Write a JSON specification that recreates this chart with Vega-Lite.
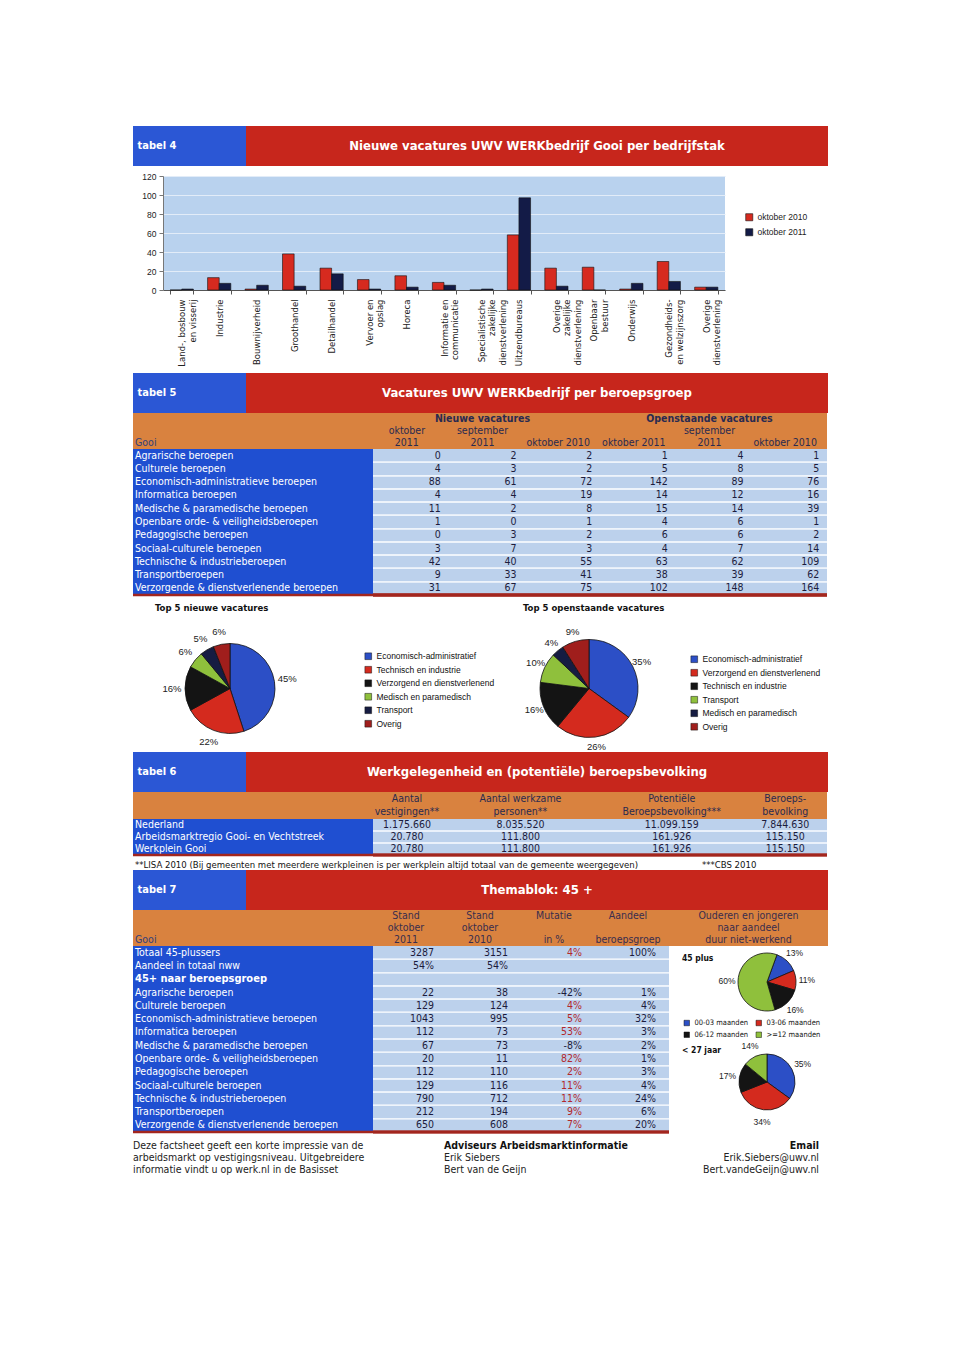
{
"$schema": "https://vega.github.io/schema/vega-lite/v6.json",
"background": "white",
"padding": {"left": 131, "top": 126, "right": 5, "bottom": 5},
"config": {"view": {"stroke": null}, "font": "DejaVu Sans Condensed", "text": {"fontSize": 10.5, "color": "#1c1c3c"}},
"spacing": 6,
"resolve": {"scale": {"color": "independent"}},
"datasets": {
 "bedrijfstakken": [
  {"bedrijfstak": "Land-, bosbouw|en visserij", "periode": "oktober 2010", "aantal": 0},
  {"bedrijfstak": "Land-, bosbouw|en visserij", "periode": "oktober 2011", "aantal": 1},
  {"bedrijfstak": "Industrie", "periode": "oktober 2010", "aantal": 13},
  {"bedrijfstak": "Industrie", "periode": "oktober 2011", "aantal": 7},
  {"bedrijfstak": "Bouwnijverheid", "periode": "oktober 2010", "aantal": 1},
  {"bedrijfstak": "Bouwnijverheid", "periode": "oktober 2011", "aantal": 5},
  {"bedrijfstak": "Groothandel", "periode": "oktober 2010", "aantal": 38},
  {"bedrijfstak": "Groothandel", "periode": "oktober 2011", "aantal": 4},
  {"bedrijfstak": "Detailhandel", "periode": "oktober 2010", "aantal": 23},
  {"bedrijfstak": "Detailhandel", "periode": "oktober 2011", "aantal": 17},
  {"bedrijfstak": "Vervoer en|opslag", "periode": "oktober 2010", "aantal": 11},
  {"bedrijfstak": "Vervoer en|opslag", "periode": "oktober 2011", "aantal": 1},
  {"bedrijfstak": "Horeca", "periode": "oktober 2010", "aantal": 15},
  {"bedrijfstak": "Horeca", "periode": "oktober 2011", "aantal": 3},
  {"bedrijfstak": "Informatie en|communicatie", "periode": "oktober 2010", "aantal": 8},
  {"bedrijfstak": "Informatie en|communicatie", "periode": "oktober 2011", "aantal": 5},
  {"bedrijfstak": "Specialistische|zakelijke|dienstverlening", "periode": "oktober 2010", "aantal": 0},
  {"bedrijfstak": "Specialistische|zakelijke|dienstverlening", "periode": "oktober 2011", "aantal": 1},
  {"bedrijfstak": "Uitzendbureaus", "periode": "oktober 2010", "aantal": 58},
  {"bedrijfstak": "Uitzendbureaus", "periode": "oktober 2011", "aantal": 97},
  {"bedrijfstak": "Overige|zakelijke|dienstverlening", "periode": "oktober 2010", "aantal": 23},
  {"bedrijfstak": "Overige|zakelijke|dienstverlening", "periode": "oktober 2011", "aantal": 4},
  {"bedrijfstak": "Openbaar|bestuur", "periode": "oktober 2010", "aantal": 24},
  {"bedrijfstak": "Openbaar|bestuur", "periode": "oktober 2011", "aantal": 0},
  {"bedrijfstak": "Onderwijs", "periode": "oktober 2010", "aantal": 1},
  {"bedrijfstak": "Onderwijs", "periode": "oktober 2011", "aantal": 7},
  {"bedrijfstak": "Gezondheids-|en welzijnszorg", "periode": "oktober 2010", "aantal": 30},
  {"bedrijfstak": "Gezondheids-|en welzijnszorg", "periode": "oktober 2011", "aantal": 9},
  {"bedrijfstak": "Overige|dienstverlening", "periode": "oktober 2010", "aantal": 3},
  {"bedrijfstak": "Overige|dienstverlening", "periode": "oktober 2011", "aantal": 3}
 ],
 "kop5": [
  {"regel": "1", "kolom": "nieuw_sep2011", "tekst": "Nieuwe vacatures"},
  {"regel": "1", "kolom": "open_sep2011", "tekst": "Openstaande vacatures"},
  {"regel": "2", "kolom": "nieuw_okt2011", "tekst": "oktober"},
  {"regel": "2", "kolom": "nieuw_sep2011", "tekst": "september"},
  {"regel": "2", "kolom": "open_sep2011", "tekst": "september"},
  {"regel": "3", "kolom": "nieuw_okt2011", "tekst": "2011"},
  {"regel": "3", "kolom": "nieuw_sep2011", "tekst": "2011"},
  {"regel": "3", "kolom": "nieuw_okt2010", "tekst": "oktober 2010"},
  {"regel": "3", "kolom": "open_okt2011", "tekst": "oktober 2011"},
  {"regel": "3", "kolom": "open_sep2011", "tekst": "2011"},
  {"regel": "3", "kolom": "open_okt2010", "tekst": "oktober 2010"}
 ],
 "tabel5": [
  {"beroepsgroep": "Agrarische beroepen", "nieuw_okt2011": 0, "nieuw_sep2011": 2, "nieuw_okt2010": 2, "open_okt2011": 1, "open_sep2011": 4, "open_okt2010": 1},
  {"beroepsgroep": "Culturele beroepen", "nieuw_okt2011": 4, "nieuw_sep2011": 3, "nieuw_okt2010": 2, "open_okt2011": 5, "open_sep2011": 8, "open_okt2010": 5},
  {"beroepsgroep": "Economisch-administratieve beroepen", "nieuw_okt2011": 88, "nieuw_sep2011": 61, "nieuw_okt2010": 72, "open_okt2011": 142, "open_sep2011": 89, "open_okt2010": 76},
  {"beroepsgroep": "Informatica beroepen", "nieuw_okt2011": 4, "nieuw_sep2011": 4, "nieuw_okt2010": 19, "open_okt2011": 14, "open_sep2011": 12, "open_okt2010": 16},
  {"beroepsgroep": "Medische & paramedische beroepen", "nieuw_okt2011": 11, "nieuw_sep2011": 2, "nieuw_okt2010": 8, "open_okt2011": 15, "open_sep2011": 14, "open_okt2010": 39},
  {"beroepsgroep": "Openbare orde- & veiligheidsberoepen", "nieuw_okt2011": 1, "nieuw_sep2011": 0, "nieuw_okt2010": 1, "open_okt2011": 4, "open_sep2011": 6, "open_okt2010": 1},
  {"beroepsgroep": "Pedagogische beroepen", "nieuw_okt2011": 0, "nieuw_sep2011": 3, "nieuw_okt2010": 2, "open_okt2011": 6, "open_sep2011": 6, "open_okt2010": 2},
  {"beroepsgroep": "Sociaal-culturele beroepen", "nieuw_okt2011": 3, "nieuw_sep2011": 7, "nieuw_okt2010": 3, "open_okt2011": 4, "open_sep2011": 7, "open_okt2010": 14},
  {"beroepsgroep": "Technische & industrieberoepen", "nieuw_okt2011": 42, "nieuw_sep2011": 40, "nieuw_okt2010": 55, "open_okt2011": 63, "open_sep2011": 62, "open_okt2010": 109},
  {"beroepsgroep": "Transportberoepen", "nieuw_okt2011": 9, "nieuw_sep2011": 33, "nieuw_okt2010": 41, "open_okt2011": 38, "open_sep2011": 39, "open_okt2010": 62},
  {"beroepsgroep": "Verzorgende & dienstverlenende beroepen", "nieuw_okt2011": 31, "nieuw_sep2011": 67, "nieuw_okt2010": 75, "open_okt2011": 102, "open_sep2011": 148, "open_okt2010": 164}
 ],
 "top5nieuw": [
  {"beroep": "Economisch-administratief", "aandeel": 0.45, "nr": 1},
  {"beroep": "Technisch en industrie", "aandeel": 0.22, "nr": 2},
  {"beroep": "Verzorgend en dienstverlenend", "aandeel": 0.16, "nr": 3},
  {"beroep": "Medisch en paramedisch", "aandeel": 0.06, "nr": 4},
  {"beroep": "Transport", "aandeel": 0.05, "nr": 5},
  {"beroep": "Overig", "aandeel": 0.06, "nr": 6}
 ],
 "top5open": [
  {"beroep": "Economisch-administratief", "aandeel": 0.35, "nr": 1},
  {"beroep": "Verzorgend en dienstverlenend", "aandeel": 0.26, "nr": 2},
  {"beroep": "Technisch en industrie", "aandeel": 0.16, "nr": 3},
  {"beroep": "Transport", "aandeel": 0.10, "nr": 4},
  {"beroep": "Medisch en paramedisch", "aandeel": 0.04, "nr": 5},
  {"beroep": "Overig", "aandeel": 0.09, "nr": 6}
 ],
 "kop6": [
  {"regel": "1", "kolom": "vestigingen", "tekst": "Aantal"},
  {"regel": "2", "kolom": "vestigingen", "tekst": "vestigingen**"},
  {"regel": "1", "kolom": "werkzame", "tekst": "Aantal werkzame"},
  {"regel": "2", "kolom": "werkzame", "tekst": "personen**"},
  {"regel": "1", "kolom": "potentieel", "tekst": "Potentiële"},
  {"regel": "2", "kolom": "potentieel", "tekst": "Beroepsbevolking***"},
  {"regel": "1", "kolom": "beroepsbevolking", "tekst": "Beroeps-"},
  {"regel": "2", "kolom": "beroepsbevolking", "tekst": "bevolking"}
 ],
 "tabel6": [
  {"gebied": "Nederland", "vestigingen": "1.175.660", "werkzame": "8.035.520", "potentieel": "11.099.159", "beroepsbevolking": "7.844.630"},
  {"gebied": "Arbeidsmarktregio Gooi- en Vechtstreek", "vestigingen": "20.780", "werkzame": "111.800", "potentieel": "161.926", "beroepsbevolking": "115.150"},
  {"gebied": "Werkplein Gooi", "vestigingen": "20.780", "werkzame": "111.800", "potentieel": "161.926", "beroepsbevolking": "115.150"}
 ],
 "voetnoot": [
  {"bron": "LISA", "tekst": "**LISA 2010 (Bij gemeenten met meerdere werkpleinen is per werkplein altijd totaal van de gemeente weergegeven)"},
  {"bron": "CBS", "tekst": "***CBS 2010"}
 ],
 "kop7": [
  {"regel": "1", "kolom": "stand2011", "tekst": "Stand"},
  {"regel": "2", "kolom": "stand2011", "tekst": "oktober"},
  {"regel": "3", "kolom": "stand2011", "tekst": "2011"},
  {"regel": "1", "kolom": "stand2010", "tekst": "Stand"},
  {"regel": "2", "kolom": "stand2010", "tekst": "oktober"},
  {"regel": "3", "kolom": "stand2010", "tekst": "2010"},
  {"regel": "1", "kolom": "mutatie", "tekst": "Mutatie"},
  {"regel": "3", "kolom": "mutatie", "tekst": "in %"},
  {"regel": "1", "kolom": "aandeel", "tekst": "Aandeel"},
  {"regel": "3", "kolom": "aandeel", "tekst": "beroepsgroep"}
 ],
 "kopduur": [
  {"regel": "1", "tekst": "Ouderen en jongeren"},
  {"regel": "2", "tekst": "naar aandeel"},
  {"regel": "3", "tekst": "duur niet-werkend"}
 ],
 "tabel7": [
  {"rij": "Totaal 45-plussers", "stand2011": "3287", "stand2010": "3151", "mutatie": "4%", "aandeel": "100%"},
  {"rij": "Aandeel in totaal nww", "stand2011": "54%", "stand2010": "54%", "mutatie": "", "aandeel": ""},
  {"rij": "45+ naar beroepsgroep", "stand2011": "", "stand2010": "", "mutatie": "", "aandeel": ""},
  {"rij": "Agrarische beroepen", "stand2011": "22", "stand2010": "38", "mutatie": "-42%", "aandeel": "1%"},
  {"rij": "Culturele beroepen", "stand2011": "129", "stand2010": "124", "mutatie": "4%", "aandeel": "4%"},
  {"rij": "Economisch-administratieve beroepen", "stand2011": "1043", "stand2010": "995", "mutatie": "5%", "aandeel": "32%"},
  {"rij": "Informatica beroepen", "stand2011": "112", "stand2010": "73", "mutatie": "53%", "aandeel": "3%"},
  {"rij": "Medische & paramedische beroepen", "stand2011": "67", "stand2010": "73", "mutatie": "-8%", "aandeel": "2%"},
  {"rij": "Openbare orde- & veiligheidsberoepen", "stand2011": "20", "stand2010": "11", "mutatie": "82%", "aandeel": "1%"},
  {"rij": "Pedagogische beroepen", "stand2011": "112", "stand2010": "110", "mutatie": "2%", "aandeel": "3%"},
  {"rij": "Sociaal-culturele beroepen", "stand2011": "129", "stand2010": "116", "mutatie": "11%", "aandeel": "4%"},
  {"rij": "Technische & industrieberoepen", "stand2011": "790", "stand2010": "712", "mutatie": "11%", "aandeel": "24%"},
  {"rij": "Transportberoepen", "stand2011": "212", "stand2010": "194", "mutatie": "9%", "aandeel": "6%"},
  {"rij": "Verzorgende & dienstverlenende beroepen", "stand2011": "650", "stand2010": "608", "mutatie": "7%", "aandeel": "20%"}
 ],
 "duur": [
  {"groep": "45 plus", "duur": "00-03 maanden", "aandeel": 0.13, "nr": 1},
  {"groep": "45 plus", "duur": "03-06 maanden", "aandeel": 0.11, "nr": 2},
  {"groep": "45 plus", "duur": "06-12 maanden", "aandeel": 0.16, "nr": 3},
  {"groep": "45 plus", "duur": ">=12 maanden", "aandeel": 0.60, "nr": 4},
  {"groep": "< 27 jaar", "duur": "00-03 maanden", "aandeel": 0.35, "nr": 1},
  {"groep": "< 27 jaar", "duur": "03-06 maanden", "aandeel": 0.34, "nr": 2},
  {"groep": "< 27 jaar", "duur": "06-12 maanden", "aandeel": 0.17, "nr": 3},
  {"groep": "< 27 jaar", "duur": ">=12 maanden", "aandeel": 0.14, "nr": 4}
 ],
 "voettekst": [
  {"kolom": "links", "regel": "1", "tekst": "Deze factsheet geeft een korte impressie van de"},
  {"kolom": "links", "regel": "2", "tekst": "arbeidsmarkt op vestigingsniveau. Uitgebreidere"},
  {"kolom": "links", "regel": "3", "tekst": "informatie vindt u op werk.nl in de Basisset"},
  {"kolom": "midden", "regel": "1", "tekst": "Adviseurs Arbeidsmarktinformatie"},
  {"kolom": "midden", "regel": "2", "tekst": "Erik Siebers"},
  {"kolom": "midden", "regel": "3", "tekst": "Bert van de Geijn"},
  {"kolom": "rechts", "regel": "1", "tekst": "Email"},
  {"kolom": "rechts", "regel": "2", "tekst": "Erik.Siebers@uwv.nl"},
  {"kolom": "rechts", "regel": "3", "tekst": "Bert.vandeGeijn@uwv.nl"}
 ]
},
"vconcat": [
 {"spacing": 0, "bounds": "flush", "hconcat": [
  {"width": 113, "height": 40, "view": {"fill": "#2b57d5"}, "data": {"values": [{"label": "tabel 4"}]},
   "mark": {"type": "text", "align": "left", "dx": -52, "color": "white", "fontWeight": "bold", "fontSize": 11},
   "encoding": {"text": {"field": "label"}}},
  {"width": 582, "height": 40, "view": {"fill": "#c7261c"}, "data": {"values": [{"titel": "Nieuwe vacatures UWV WERKbedrijf Gooi per bedrijfstak"}]},
   "mark": {"type": "text", "color": "white", "fontWeight": "bold", "fontSize": 13},
   "encoding": {"text": {"field": "titel"}}}
 ]},
 {"spacing": 0, "hconcat": [
  {"width": 1, "height": 114, "data": {"values": [{"leeg": ""}]}, "mark": {"type": "text"}, "encoding": {"text": {"field": "leeg"}}},
  {"width": 562, "height": 114,
   "view": {"fill": "#b9d2ee"},
   "data": {"name": "bedrijfstakken"},
   "mark": {"type": "bar", "stroke": "#111111", "strokeWidth": 0.6},
   "encoding": {
    "x": {"field": "bedrijfstak", "type": "nominal", "sort": null, "scale": {"paddingInner": 0.38, "paddingOuter": 0.19},
     "axis": {"title": null, "labelAngle": -90, "labelExpr": "split(datum.label, '|')", "labelFont": "DejaVu Sans", "labelFontSize": 8.5, "labelColor": "#222222", "labelLineHeight": 10.5, "labelLimit": 0, "labelPadding": 5, "tickBand": "extent", "tickSize": 4, "tickColor": "#555555", "domainColor": "#555555"}},
    "y": {"field": "aantal", "type": "quantitative", "scale": {"domain": [0, 120]},
     "axis": {"title": null, "values": [0, 20, 40, 60, 80, 100, 120], "labelFont": "Liberation Sans", "labelFontSize": 8.5, "labelColor": "#222222", "gridColor": "#e2ecf8", "domainColor": "#777777", "tickColor": "#777777", "tickSize": 4, "labelPadding": 3, "minExtent": 29}},
    "xOffset": {"field": "periode", "type": "nominal", "sort": null},
    "color": {"field": "periode", "type": "nominal", "scale": {"domain": ["oktober 2010", "oktober 2011"], "range": ["#d62a1f", "#131b47"]},
     "legend": {"title": null, "orient": "none", "legendX": 612, "legendY": 37, "symbolType": "square", "symbolSize": 50, "symbolStrokeColor": "#111111", "symbolStrokeWidth": 0.6, "labelFont": "Liberation Sans", "labelFontSize": 8.5, "labelColor": "#222222", "rowPadding": 5}}
   }}
 ]},
 {"spacing": 0, "vconcat": [
  {"spacing": 0, "bounds": "flush", "hconcat": [
   {"width": 113, "height": 40, "view": {"fill": "#2b57d5"}, "data": {"values": [{"label": "tabel 5"}]},
    "mark": {"type": "text", "align": "left", "dx": -52, "color": "white", "fontWeight": "bold", "fontSize": 11},
    "encoding": {"text": {"field": "label"}}},
   {"width": 582, "height": 40, "view": {"fill": "#c7261c"}, "data": {"values": [{"titel": "Vacatures UWV WERKbedrijf per beroepsgroep"}]},
    "mark": {"type": "text", "color": "white", "fontWeight": "bold", "fontSize": 13},
    "encoding": {"text": {"field": "titel"}}}
  ]},
  {"spacing": 0, "bounds": "flush", "hconcat": [
   {"width": 240, "height": 36, "view": {"fill": "#d9823f"}, "data": {"values": [{"regel": "3", "tekst": "Gooi"}]},
    "mark": {"type": "text", "align": "left", "dx": -118, "color": "#34407a"},
    "encoding": {"y": {"field": "regel", "type": "ordinal", "scale": {"domain": ["1", "2", "3"]}, "axis": null}, "text": {"field": "tekst"}}},
   {"width": 454, "height": 36, "view": {"fill": "#d9823f"}, "data": {"name": "kop5"},
    "encoding": {
     "x": {"field": "kolom", "type": "nominal", "scale": {"domain": ["nieuw_okt2011", "nieuw_sep2011", "nieuw_okt2010", "open_okt2011", "open_sep2011", "open_okt2010"]}, "axis": null},
     "y": {"field": "regel", "type": "ordinal", "scale": {"domain": ["1", "2", "3"]}, "axis": null},
     "text": {"field": "tekst"}},
    "layer": [
     {"transform": [{"filter": "datum.regel == '1'"}], "mark": {"type": "text", "dx": -4, "fontWeight": "bold", "fontSize": 10.5, "color": "#2a2a50"}},
     {"transform": [{"filter": "datum.regel != '1'"}], "mark": {"type": "text", "dx": -4, "color": "#2a2a50"}}
    ]}
  ]},
  {"spacing": 0, "bounds": "flush", "hconcat": [
   {"width": 240, "height": 146, "view": {"fill": "#1f4fd1"}, "data": {"name": "tabel5"},
    "encoding": {"y": {"field": "beroepsgroep", "type": "nominal", "sort": null, "axis": null}},
    "layer": [
     {"mark": {"type": "text", "align": "left", "dx": -118, "color": "white"}, "encoding": {"text": {"field": "beroepsgroep"}}},
     {"transform": [{"filter": "datum.beroepsgroep == 'Verzorgende & dienstverlenende beroepen'"}],
      "mark": {"type": "rule", "color": "#a3261e", "strokeWidth": 2.5},
      "encoding": {"y": {"field": "beroepsgroep", "type": "nominal", "sort": null, "axis": null, "bandPosition": 1}}}
    ]},
   {"width": 454, "height": 146, "view": {"fill": "#bcd1ec"}, "data": {"name": "tabel5"},
    "transform": [{"fold": ["nieuw_okt2011", "nieuw_sep2011", "nieuw_okt2010", "open_okt2011", "open_sep2011", "open_okt2010"], "as": ["kolom", "aantal"]}],
    "layer": [
     {"mark": {"type": "rule", "color": "#eef4fb", "strokeWidth": 1.2},
      "encoding": {"y": {"field": "beroepsgroep", "type": "nominal", "sort": null, "axis": null, "bandPosition": 1}}},
     {"mark": {"type": "text", "align": "right", "dx": 30},
      "encoding": {
       "y": {"field": "beroepsgroep", "type": "nominal", "sort": null, "axis": null},
       "x": {"field": "kolom", "type": "nominal", "scale": {"domain": ["nieuw_okt2011", "nieuw_sep2011", "nieuw_okt2010", "open_okt2011", "open_sep2011", "open_okt2010"]}, "axis": null},
       "text": {"field": "aantal"}}},
     {"transform": [{"filter": "datum.beroepsgroep == 'Verzorgende & dienstverlenende beroepen'"}],
      "mark": {"type": "rule", "color": "#a3261e", "strokeWidth": 2.5},
      "encoding": {"y": {"field": "beroepsgroep", "type": "nominal", "sort": null, "axis": null, "bandPosition": 1}}}
    ]}
  ]}
 ]},
 {"spacing": 0, "vconcat": [
 {"spacing": 196, "bounds": "flush",
  "resolve": {"scale": {"color": "independent", "theta": "independent"}},
  "hconcat": [
   {"width": 194, "height": 113,
    "title": {"text": "Top 5 nieuwe vacatures", "anchor": "start", "dx": 22, "fontSize": 9.5, "fontWeight": "bold", "color": "#111111", "offset": 14},
    "data": {"name": "top5nieuw"},
    "encoding": {
     "theta": {"field": "aandeel", "type": "quantitative", "stack": true},
     "order": {"field": "nr", "type": "quantitative"}},
    "layer": [
     {"mark": {"type": "arc", "outerRadius": 45, "stroke": "#111111", "strokeWidth": 0.8},
      "encoding": {"color": {"field": "beroep", "type": "nominal",
       "scale": {"domain": ["Economisch-administratief", "Technisch en industrie", "Verzorgend en dienstverlenend", "Medisch en paramedisch", "Transport", "Overig"], "range": ["#2c4fc6", "#d42a1e", "#141414", "#8fc03c", "#161c42", "#a01e1c"]},
       "legend": {"title": null, "orient": "none", "legendX": 231, "legendY": 20, "symbolType": "square", "symbolSize": 45, "symbolStrokeColor": "#111111", "symbolStrokeWidth": 0.5, "labelFont": "Liberation Sans", "labelFontSize": 8.5, "labelColor": "#111111", "rowPadding": 3.5}}}},
     {"mark": {"type": "text", "radius": 58, "font": "Liberation Sans", "fontSize": 9.5, "color": "#222222"},
      "encoding": {"detail": {"field": "beroep", "type": "nominal"}, "text": {"field": "aandeel", "type": "quantitative", "format": ".0%"}}}
    ]},
   {"width": 132, "height": 113,
    "title": {"text": "Top 5 openstaande vacatures", "anchor": "start", "fontSize": 9.5, "fontWeight": "bold", "color": "#111111", "offset": 14},
    "data": {"name": "top5open"},
    "encoding": {
     "theta": {"field": "aandeel", "type": "quantitative", "stack": true},
     "order": {"field": "nr", "type": "quantitative"}},
    "layer": [
     {"mark": {"type": "arc", "outerRadius": 49, "stroke": "#111111", "strokeWidth": 0.8},
      "encoding": {"color": {"field": "beroep", "type": "nominal",
       "scale": {"domain": ["Economisch-administratief", "Verzorgend en dienstverlenend", "Technisch en industrie", "Transport", "Medisch en paramedisch", "Overig"], "range": ["#2c4fc6", "#d42a1e", "#141414", "#8fc03c", "#161c42", "#a01e1c"]},
       "legend": {"title": null, "orient": "none", "legendX": 167, "legendY": 23, "symbolType": "square", "symbolSize": 45, "symbolStrokeColor": "#111111", "symbolStrokeWidth": 0.5, "labelFont": "Liberation Sans", "labelFontSize": 8.5, "labelColor": "#111111", "rowPadding": 3.5}}}},
     {"mark": {"type": "text", "radius": 59, "font": "Liberation Sans", "fontSize": 9.5, "color": "#222222"},
      "encoding": {"detail": {"field": "beroep", "type": "nominal"}, "text": {"field": "aandeel", "type": "quantitative", "format": ".0%"}}}
    ]}
  ]},
 {"spacing": 0, "vconcat": [
  {"spacing": 0, "bounds": "flush", "hconcat": [
   {"width": 113, "height": 40, "view": {"fill": "#2b57d5"}, "data": {"values": [{"label": "tabel 6"}]},
    "mark": {"type": "text", "align": "left", "dx": -52, "color": "white", "fontWeight": "bold", "fontSize": 11},
    "encoding": {"text": {"field": "label"}}},
   {"width": 582, "height": 40, "view": {"fill": "#c7261c"}, "data": {"values": [{"titel": "Werkgelegenheid en (potentiële) beroepsbevolking"}]},
    "mark": {"type": "text", "color": "white", "fontWeight": "bold", "fontSize": 13},
    "encoding": {"text": {"field": "titel"}}}
  ]},
  {"spacing": 0, "bounds": "flush", "hconcat": [
   {"width": 240, "height": 27, "view": {"fill": "#d9823f"}, "data": {"values": [{"tekst": ""}]},
    "mark": {"type": "text"}, "encoding": {"text": {"field": "tekst"}}},
   {"width": 454, "height": 27, "view": {"fill": "#d9823f"}, "data": {"name": "kop6"},
    "mark": {"type": "text", "dx": 15, "color": "#2a2a50"},
    "encoding": {
     "x": {"field": "kolom", "type": "nominal", "scale": {"domain": ["vestigingen", "_a", "_b", "werkzame", "_c", "_d", "_e", "potentieel", "_f", "_g", "beroepsbevolking", "_h"]}, "axis": null},
     "y": {"field": "regel", "type": "ordinal", "scale": {"domain": ["1", "2"]}, "axis": null},
     "text": {"field": "tekst"}}}
  ]},
  {"spacing": 0, "bounds": "flush", "hconcat": [
   {"width": 240, "height": 36, "view": {"fill": "#1f4fd1"}, "data": {"name": "tabel6"},
    "encoding": {"y": {"field": "gebied", "type": "nominal", "sort": null, "axis": null}},
    "layer": [
     {"mark": {"type": "text", "align": "left", "dx": -118, "color": "white"}, "encoding": {"text": {"field": "gebied"}}},
     {"transform": [{"filter": "datum.gebied == 'Werkplein Gooi'"}],
      "mark": {"type": "rule", "color": "#a3261e", "strokeWidth": 2.5},
      "encoding": {"y": {"field": "gebied", "type": "nominal", "sort": null, "axis": null, "bandPosition": 1}}}
    ]},
   {"width": 454, "height": 36, "view": {"fill": "#bcd1ec"}, "data": {"name": "tabel6"},
    "transform": [{"fold": ["vestigingen", "werkzame", "potentieel", "beroepsbevolking"], "as": ["kolom", "waarde"]}],
    "layer": [
     {"mark": {"type": "rule", "color": "#eef4fb", "strokeWidth": 1.2},
      "encoding": {"y": {"field": "gebied", "type": "nominal", "sort": null, "axis": null, "bandPosition": 1}}},
     {"mark": {"type": "text", "dx": 15},
      "encoding": {
       "y": {"field": "gebied", "type": "nominal", "sort": null, "axis": null},
       "x": {"field": "kolom", "type": "nominal", "scale": {"domain": ["vestigingen", "_a", "_b", "werkzame", "_c", "_d", "_e", "potentieel", "_f", "_g", "beroepsbevolking", "_h"]}, "axis": null},
       "text": {"field": "waarde"}}},
     {"transform": [{"filter": "datum.gebied == 'Werkplein Gooi'"}],
      "mark": {"type": "rule", "color": "#a3261e", "strokeWidth": 2.5},
      "encoding": {"y": {"field": "gebied", "type": "nominal", "sort": null, "axis": null, "bandPosition": 1}}}
    ]}
  ]},
  {"width": 694, "height": 13, "data": {"name": "voetnoot"},
   "layer": [
    {"transform": [{"filter": "datum.bron == 'LISA'"}], "mark": {"type": "text", "align": "left", "dx": -345, "dy": 1, "fontSize": 9.5, "color": "#111111"}, "encoding": {"text": {"field": "tekst"}}},
    {"transform": [{"filter": "datum.bron == 'CBS'"}], "mark": {"type": "text", "align": "left", "dx": 222, "dy": 1, "fontSize": 9.5, "color": "#111111"}, "encoding": {"text": {"field": "tekst"}}}
   ]},
  {"spacing": 0, "bounds": "flush", "hconcat": [
   {"width": 113, "height": 40, "view": {"fill": "#2b57d5"}, "data": {"values": [{"label": "tabel 7"}]},
    "mark": {"type": "text", "align": "left", "dx": -52, "color": "white", "fontWeight": "bold", "fontSize": 11},
    "encoding": {"text": {"field": "label"}}},
   {"width": 582, "height": 40, "view": {"fill": "#c7261c"}, "data": {"values": [{"titel": "Themablok: 45 +"}]},
    "mark": {"type": "text", "color": "white", "fontWeight": "bold", "fontSize": 13},
    "encoding": {"text": {"field": "titel"}}}
  ]},
  {"spacing": 0, "bounds": "flush", "hconcat": [
   {"width": 240, "height": 36, "view": {"fill": "#d9823f"}, "data": {"values": [{"regel": "3", "tekst": "Gooi"}]},
    "mark": {"type": "text", "align": "left", "dx": -118, "color": "#34407a"},
    "encoding": {"y": {"field": "regel", "type": "ordinal", "scale": {"domain": ["1", "2", "3"]}, "axis": null}, "text": {"field": "tekst"}}},
   {"width": 296, "height": 36, "view": {"fill": "#d9823f"}, "data": {"name": "kop7"},
    "mark": {"type": "text", "dx": -4, "color": "#3a2d4d"},
    "encoding": {
     "x": {"field": "kolom", "type": "nominal", "scale": {"domain": ["stand2011", "stand2010", "mutatie", "aandeel"]}, "axis": null},
     "y": {"field": "regel", "type": "ordinal", "scale": {"domain": ["1", "2", "3"]}, "axis": null},
     "text": {"field": "tekst"}}},
   {"width": 159, "height": 36, "view": {"fill": "#d9823f"}, "data": {"name": "kopduur"},
    "mark": {"type": "text", "color": "#3a2d4d"},
    "encoding": {
     "y": {"field": "regel", "type": "ordinal", "scale": {"domain": ["1", "2", "3"]}, "axis": null},
     "text": {"field": "tekst"}}}
  ]},
  {"spacing": 0, "bounds": "flush", "hconcat": [
   {"width": 240, "height": 186, "view": {"fill": "#1f4fd1"}, "data": {"name": "tabel7"},
    "encoding": {
     "y": {"field": "rij", "type": "nominal", "axis": null, "scale": {"domain": ["Totaal 45-plussers", "Aandeel in totaal nww", "45+ naar beroepsgroep", "Agrarische beroepen", "Culturele beroepen", "Economisch-administratieve beroepen", "Informatica beroepen", "Medische & paramedische beroepen", "Openbare orde- & veiligheidsberoepen", "Pedagogische beroepen", "Sociaal-culturele beroepen", "Technische & industrieberoepen", "Transportberoepen", "Verzorgende & dienstverlenende beroepen"]}}},
    "layer": [
     {"transform": [{"filter": "datum.rij != '45+ naar beroepsgroep'"}], "mark": {"type": "text", "align": "left", "dx": -118, "color": "white"}, "encoding": {"text": {"field": "rij"}}},
     {"transform": [{"filter": "datum.rij == '45+ naar beroepsgroep'"}], "mark": {"type": "text", "align": "left", "dx": -118, "color": "white", "fontWeight": "bold", "fontSize": 11}, "encoding": {"text": {"field": "rij"}}},
     {"transform": [{"filter": "datum.rij == 'Verzorgende & dienstverlenende beroepen'"}],
      "mark": {"type": "rule", "color": "#a3261e", "strokeWidth": 2.5},
      "encoding": {"y": {"field": "rij", "type": "nominal", "axis": null, "bandPosition": 1}}}
    ]},
   {"width": 296, "height": 186, "view": {"fill": "#bcd1ec"}, "data": {"name": "tabel7"},
    "transform": [{"fold": ["stand2011", "stand2010", "mutatie", "aandeel"], "as": ["kolom", "waarde"]}],
    "layer": [
     {"mark": {"type": "rule", "color": "#eef4fb", "strokeWidth": 1.2},
      "encoding": {"y": {"field": "rij", "type": "nominal", "sort": null, "axis": null, "bandPosition": 1}}},
     {"mark": {"type": "text", "align": "right", "dx": 24},
      "encoding": {
       "y": {"field": "rij", "type": "nominal", "sort": null, "axis": null},
       "x": {"field": "kolom", "type": "nominal", "scale": {"domain": ["stand2011", "stand2010", "mutatie", "aandeel"]}, "axis": null},
       "text": {"field": "waarde"},
       "color": {"condition": {"test": "datum.kolom == 'mutatie' && indexof(datum.waarde, '-') < 0", "value": "#b3282c"}, "value": "#1c1c3c"}}},
     {"transform": [{"filter": "datum.rij == 'Verzorgende & dienstverlenende beroepen'"}],
      "mark": {"type": "rule", "color": "#a3261e", "strokeWidth": 2.5},
      "encoding": {"y": {"field": "rij", "type": "nominal", "sort": null, "axis": null, "bandPosition": 1}}}
    ]},
   {"spacing": 0,
    "resolve": {"scale": {"color": "independent", "theta": "independent"}},
    "vconcat": [
     {"width": 196, "height": 72,
      "layer": [
       {"data": {"name": "duur"}, "transform": [{"filter": "datum.groep == '45 plus'"}],
        "encoding": {
         "theta": {"field": "aandeel", "type": "quantitative", "stack": true, "scale": {"range": [0.35, 6.633]}},
         "order": {"field": "nr", "type": "quantitative"}},
        "layer": [
         {"mark": {"type": "arc", "outerRadius": 29, "stroke": "#111111", "strokeWidth": 0.8},
          "encoding": {"color": {"field": "duur", "type": "nominal",
           "scale": {"domain": ["00-03 maanden", "03-06 maanden", "06-12 maanden", ">=12 maanden"], "range": ["#2c4fc6", "#d42a1e", "#141414", "#8fc03c"]},
           "legend": {"title": null, "orient": "none", "legendX": 14, "legendY": 73, "columns": 2, "direction": "horizontal", "symbolType": "square", "symbolSize": 30, "symbolStrokeColor": "#111111", "symbolStrokeWidth": 0.5, "labelFont": "DejaVu Sans Condensed", "labelFontSize": 7.5, "labelColor": "#111111", "columnPadding": 6, "rowPadding": 3}}}},
         {"mark": {"type": "text", "radius": 40, "font": "Liberation Sans", "fontSize": 8.5, "color": "#222222"},
          "encoding": {"detail": {"field": "duur", "type": "nominal"}, "text": {"field": "aandeel", "type": "quantitative", "format": ".0%"}}}
        ]},
       {"data": {"values": [{"groep": "45 plus"}]},
        "mark": {"type": "text", "align": "left", "dx": -85, "dy": -24, "fontWeight": "bold", "fontSize": 8.5, "color": "#111111"},
        "encoding": {"text": {"field": "groep"}}}
      ]},
     {"width": 196, "height": 86,
      "layer": [
       {"data": {"name": "duur"}, "transform": [{"filter": "datum.groep == '< 27 jaar'"}],
        "encoding": {
         "theta": {"field": "aandeel", "type": "quantitative", "stack": true},
         "order": {"field": "nr", "type": "quantitative"}},
        "layer": [
         {"mark": {"type": "arc", "outerRadius": 28, "stroke": "#111111", "strokeWidth": 0.8},
          "encoding": {"color": {"field": "duur", "type": "nominal",
           "scale": {"domain": ["00-03 maanden", "03-06 maanden", "06-12 maanden", ">=12 maanden"], "range": ["#2c4fc6", "#d42a1e", "#141414", "#8fc03c"]},
           "legend": null}}},
         {"mark": {"type": "text", "radius": 40, "font": "Liberation Sans", "fontSize": 8.5, "color": "#222222"},
          "encoding": {"detail": {"field": "duur", "type": "nominal"}, "text": {"field": "aandeel", "type": "quantitative", "format": ".0%"}}}
        ]},
       {"data": {"values": [{"groep": "< 27 jaar"}]},
        "mark": {"type": "text", "align": "left", "dx": -85, "dy": -32, "fontWeight": "bold", "fontSize": 8.5, "color": "#111111"},
        "encoding": {"text": {"field": "groep"}}}
      ]}
    ]}
  ]}
 ]}
 ]},
 {"width": 694, "height": 36, "data": {"name": "voettekst"},
  "encoding": {
   "y": {"field": "regel", "type": "ordinal", "scale": {"domain": ["1", "2", "3"]}, "axis": null},
   "text": {"field": "tekst"}},
  "layer": [
   {"transform": [{"filter": "datum.kolom == 'links'"}], "mark": {"type": "text", "align": "left", "dx": -347, "color": "#222222"}},
   {"transform": [{"filter": "datum.kolom == 'midden' && datum.regel != '1'"}], "mark": {"type": "text", "align": "left", "dx": -36, "color": "#222222"}},
   {"transform": [{"filter": "datum.kolom == 'midden' && datum.regel == '1'"}], "mark": {"type": "text", "align": "left", "dx": -36, "fontWeight": "bold", "color": "#111111"}},
   {"transform": [{"filter": "datum.kolom == 'rechts' && datum.regel != '1'"}], "mark": {"type": "text", "align": "right", "dx": 339, "color": "#222222"}},
   {"transform": [{"filter": "datum.kolom == 'rechts' && datum.regel == '1'"}], "mark": {"type": "text", "align": "right", "dx": 339, "fontWeight": "bold", "color": "#111111"}}
  ]}
]
}
